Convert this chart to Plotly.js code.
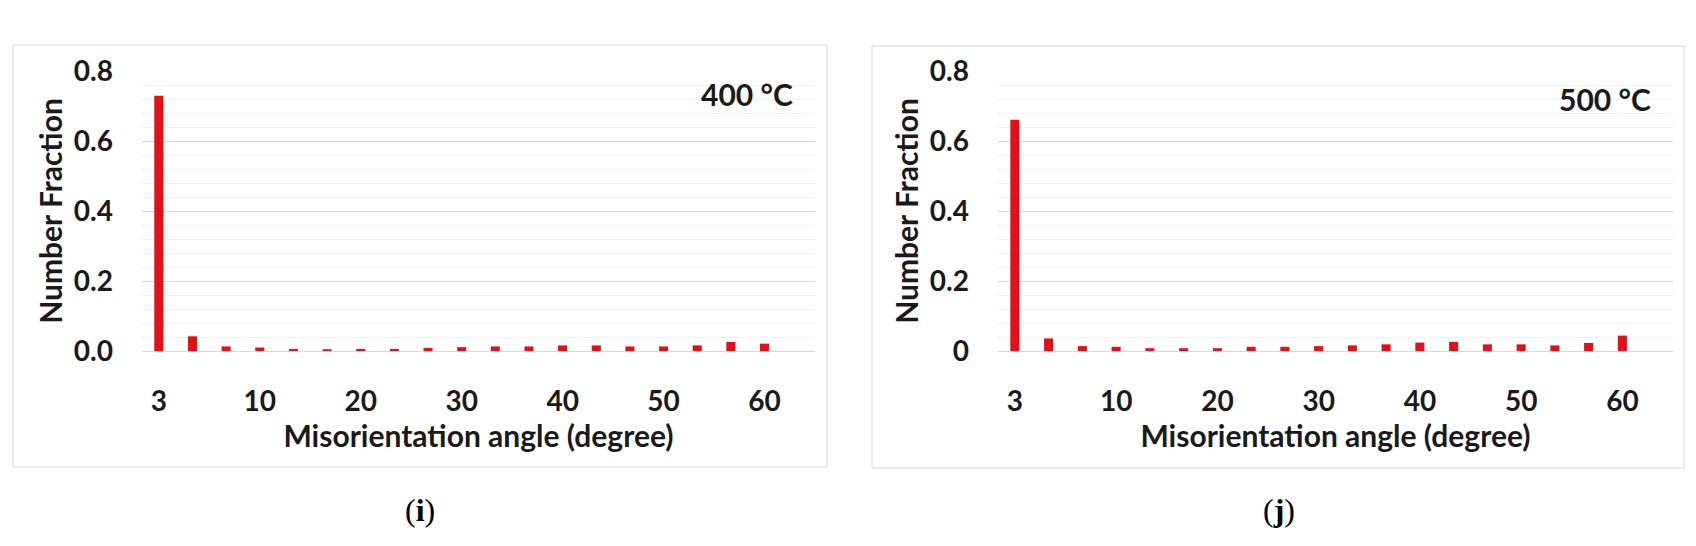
<!DOCTYPE html>
<html>
<head>
<meta charset="utf-8">
<script src="https://cdn.plot.ly/plotly-3.0.1.min.js"></script>
<style>
  html, body { margin: 0; padding: 0; background: #fff; }
  #plot { width: 1696px; height: 546px; }
</style>
</head>
<body>
<div id="plot"></div>
<script>
// misorientation angle bins (categories), only some of them get a label
var angleBins = ['3', '5.3', '7.7', '10', '13.3', '16.7', '20', '23.3', '26.7', '30',
                 '33.3', '36.7', '40', '43.3', '46.7', '50', '53.3', '56.7', '60']
var tickBins = ['3', '10', '20', '30', '40', '50', '60']

// number fraction
var frac400 = [0.729, 0.042, 0.013, 0.010, 0.006, 0.005, 0.006, 0.006, 0.009, 0.011,
               0.013, 0.013, 0.016, 0.016, 0.013, 0.013, 0.016, 0.026, 0.021]
var frac500 = [0.661, 0.036, 0.014, 0.012, 0.008, 0.008, 0.008, 0.012, 0.012, 0.014,
               0.016, 0.019, 0.024, 0.026, 0.019, 0.019, 0.016, 0.023, 0.044]

var yTicks = [0, 0.2, 0.4, 0.6, 0.8]
var yText400 = ['0.0', '0.2', '0.4', '0.6', '0.8']
var yText500 = ['0', '0.2', '0.4', '0.6', '0.8']

var W = 1696, H = 546
function px(x) { return x / W }
function py(y) { return 1 - y / H }

var red = '#e3101a'
var tickTxt = {family: 'Lato, sans-serif', size: 28, color: '#1a1a1a', weight: 'bold'}
var titleTxt = {family: 'Lato, sans-serif', size: 30, color: '#1a1a1a', weight: 'bold'}

function makeTrace(vals, xa, ya) {
  return {
    type: 'bar',
    x: angleBins,
    y: vals,
    xaxis: xa,
    yaxis: ya,
    width: 0.27,
    marker: {color: red},
    hoverinfo: 'x+y',
    showlegend: false
  }
}

function xAxis(dom, anchor) {
  return {
    domain: dom,
    anchor: anchor,
    type: 'category',
    categoryorder: 'array',
    categoryarray: angleBins,
    range: [-0.5, 19.5],
    tickvals: tickBins,
    ticktext: tickBins,
    ticks: '',
    ticklabelstandoff: 25,
    tickfont: tickTxt,
    showgrid: false,
    showline: true,
    linecolor: '#d9d9d9',
    linewidth: 1,
    zeroline: false,
    title: {text: 'Misorientation angle (degree)', font: titleTxt, standoff: 8}
  }
}

function yAxis(dom, anchor, labels) {
  return {
    domain: dom,
    anchor: anchor,
    range: [0, 0.8],
    tickvals: yTicks,
    ticktext: labels,
    ticks: '',
    ticklabelstandoff: 28,
    tickfont: tickTxt,
    showgrid: true,
    gridcolor: '#d9d9d9',
    gridwidth: 1,
    minor: {dtick: 0.04, tick0: 0, showgrid: true, gridcolor: '#f0f0f0', gridwidth: 1},
    zeroline: false,
    showline: false,
    title: {text: 'Number Fraction', font: titleTxt, standoff: 2}
  }
}

var plot_data = [
  makeTrace(frac400, 'x', 'y'),
  makeTrace(frac500, 'x2', 'y2')
]

var yDom = [py(351), py(71)]

var layout = {
  width: W,
  height: H,
  margin: {l: 0, r: 0, t: 0, b: 0},
  paper_bgcolor: '#ffffff',
  plot_bgcolor: '#ffffff',
  font: {family: 'Lato, sans-serif'},
  xaxis: xAxis([px(142), px(815)], 'y'),
  yaxis: yAxis(yDom, 'x', yText400),
  xaxis2: xAxis([px(998), px(1673)], 'y2'),
  yaxis2: yAxis(yDom, 'x2', yText500),
  shapes: [
    {type: 'rect', xref: 'paper', yref: 'paper', x0: px(13), x1: px(827), y0: py(467), y1: py(45),
     line: {color: '#d9d9d9', width: 1}, layer: 'below'},
    {type: 'rect', xref: 'paper', yref: 'paper', x0: px(872), x1: px(1684), y0: py(468), y1: py(46),
     line: {color: '#d9d9d9', width: 1}, layer: 'below'}
  ],
  annotations: [
    {text: '400 °C', xref: 'paper', yref: 'paper', x: px(795), y: py(94),
     xanchor: 'right', yanchor: 'middle', showarrow: false, font: titleTxt},
    {text: '500 °C', xref: 'paper', yref: 'paper', x: px(1653), y: py(99),
     xanchor: 'right', yanchor: 'middle', showarrow: false, font: titleTxt},
    {text: '(<b>i</b>)', xref: 'paper', yref: 'paper', x: px(420), y: py(510),
     xanchor: 'center', yanchor: 'middle', showarrow: false,
     font: {family: 'Liberation Serif, serif', size: 32, color: '#000'}},
    {text: '(<b>j</b>)', xref: 'paper', yref: 'paper', x: px(1279), y: py(510),
     xanchor: 'center', yanchor: 'middle', showarrow: false,
     font: {family: 'Liberation Serif, serif', size: 32, color: '#000'}}
  ]
}

Plotly.newPlot('plot', plot_data, layout, {displayModeBar: false, staticPlot: true})
</script>
</body>
</html>
